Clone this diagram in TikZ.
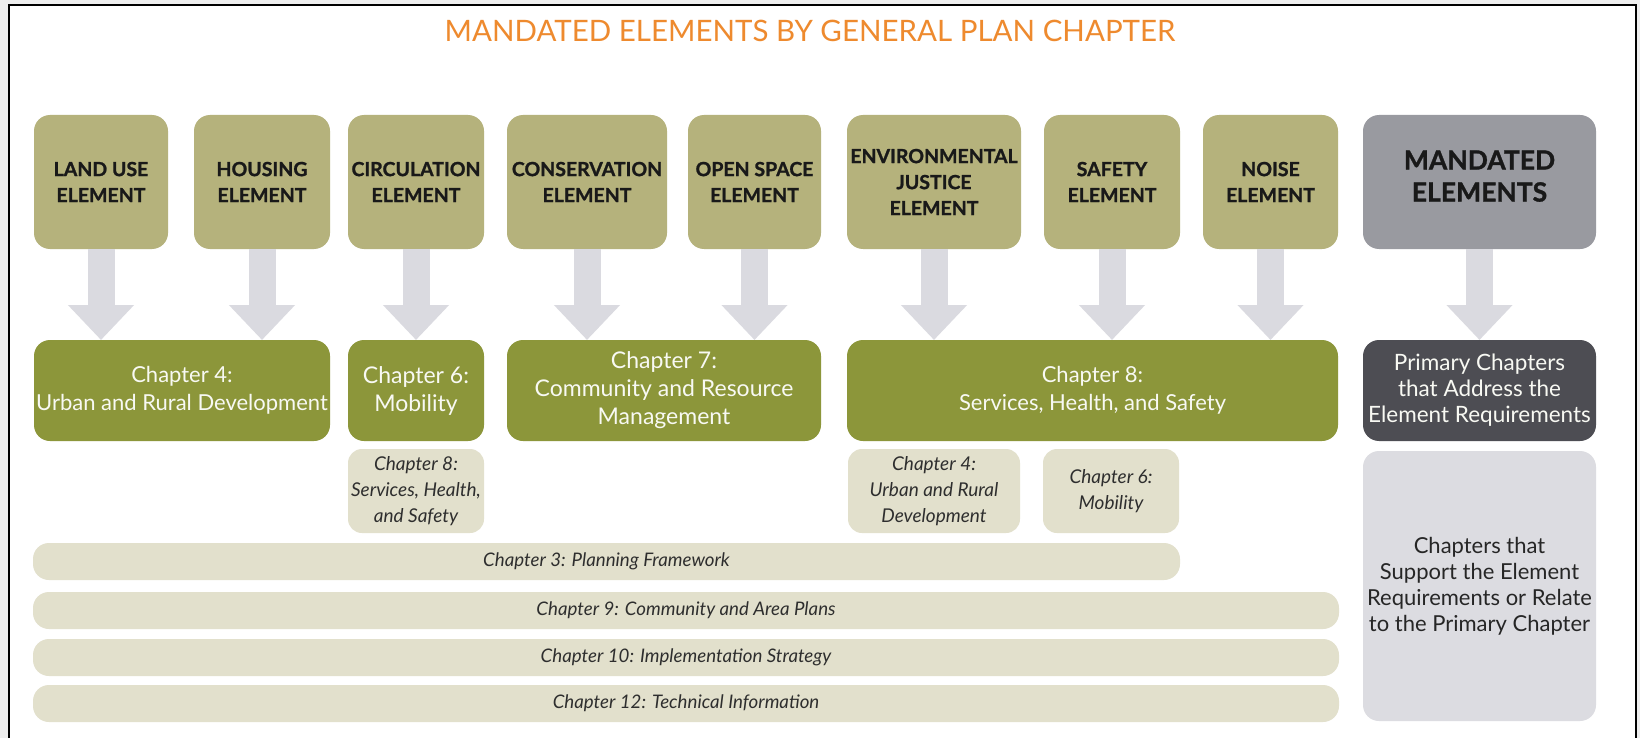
\documentclass[tikz,border=0pt]{standalone}
\usepackage{fontspec}
\setmainfont{Lato}
\newfontfamily\heavyfont[BoldFeatures={FakeBold=1.2}]{Lato}
\usetikzlibrary{positioning, arrows.meta}

\definecolor{elementkhaki}{HTML}{B5B27C}
\definecolor{chaptergreen}{HTML}{8C963A}
\definecolor{supportbeige}{HTML}{E2E0CC}
\definecolor{arrowgray}{HTML}{DADAE0}
\definecolor{mandgray}{HTML}{999AA0}
\definecolor{primgray}{HTML}{4D4D53}
\definecolor{suppgray}{HTML}{DCDCE1}
\definecolor{titleorange}{HTML}{EE8A2E}
\definecolor{outergray}{HTML}{EEEEEE}

\begin{document}
\begin{tikzpicture}[x=1pt, y=-1pt, inner sep=0pt, outer sep=0pt]
                \tikzset{
                    element/.style={fill=elementkhaki, rounded corners=16pt, minimum width=135pt, minimum height=134pt, align=center, font=\fontsize{19.5}{26}\heavyfont\bfseries, text=black!90},
                    primary/.style={fill=chaptergreen, rounded corners=16pt, minimum height=101pt, align=center, font=\fontsize{23}{28}\selectfont, text=white!94!chaptergreen},
                    support/.style={fill=supportbeige, rounded corners=14pt, minimum height=84pt, align=center, font=\fontsize{19}{26}\selectfont\itshape, text=black!82},
                    bar/.style={fill=supportbeige, rounded corners=16pt, minimum height=37pt, font=\fontsize{18.7}{22}\selectfont\itshape, text=black!82},
                    bigarrow/.style={draw=arrowgray, line width=27pt, -{Triangle[width=64pt, length=35pt]}}
                }

                % FRAME
                \useasboundingbox (0,0) rectangle (1640,738);
                \fill[outergray] (0,0) rectangle (1640,738);
                \fill[white] (9,5) rectangle (1636,750);
                \draw[line width=2.5pt] (9,750) -- (9,5) -- (1636,5) -- (1636,750);

                % TITLE
                \node[font=\fontsize{29.5}{34}\selectfont, text=titleorange] (title) at (810,31) {MANDATED ELEMENTS BY GENERAL PLAN CHAPTER};

                % ELEMENTS
                \node[element, minimum width=134pt] (lu) at (101,182) {LAND USE\\ELEMENT};
                \node[element, minimum width=136pt] (ho) at (262,182) {HOUSING\\ELEMENT};
                \node[element, minimum width=136pt] (ci) at (416,182) {CIRCULATION\\ELEMENT};
                \node[element, minimum width=160pt] (co) at (587,182) {CONSERVATION\\ELEMENT};
                \node[element, minimum width=133pt] (os) at (754.5,182) {OPEN SPACE\\ELEMENT};
                \node[element, minimum width=174pt] (ej) at (934,182) {ENVIRONMENTAL\\JUSTICE\\ELEMENT};
                \node[element, minimum width=136pt] (sa) at (1112,182) {SAFETY\\ELEMENT};
                \node[element, minimum width=135pt] (no) at (1270.5,182) {NOISE\\ELEMENT};
                \node[element, minimum width=233pt, fill=mandgray, font=\fontsize{26.5}{32}\heavyfont\bfseries] (ma) at (1479.5,182) {MANDATED\\ELEMENTS\\[-20pt]};

                % PRIMARY CHAPTERS
                \node[primary, minimum width=296pt, font=\fontsize{22}{28}\selectfont] (c4) at (182,390.5) {Chapter 4:\\Urban and Rural Development};
                \node[primary, minimum width=136pt] (c6) at (416,390.5) {Chapter 6:\\Mobility};
                \node[primary, minimum width=314pt] (c7) at (664,390.5) {Chapter 7:\\Community and Resource\\Management};
                \node[primary, minimum width=491pt, font=\fontsize{22}{28}\selectfont] (c8) at (1092.5,390.5) {Chapter 8:\\Services, Health, and Safety};
                \node[primary, minimum width=233pt, fill=primgray, font=\fontsize{22.5}{26}\selectfont] (pr) at (1479.5,390.5) {Primary Chapters\\that Address the\\Element Requirements};

                % SUPPORTING CHAPTERS
                \node[support, minimum width=136pt] (s8) at (416,491) {Chapter 8:\\Services, Health,\\and Safety};
                \node[support, minimum width=172pt] (s4) at (934,491) {Chapter 4:\\Urban and Rural\\Development};
                \node[support, minimum width=136pt] (s6) at (1111,491) {Chapter 6:\\Mobility};
                \node[support, minimum width=233pt, minimum height=270pt, fill=suppgray, rounded corners=16pt, font=\fontsize{22}{26}\selectfont, text=black!85] (su) at (1479.5,586) {Chapters that\\Support the Element\\Requirements or Relate\\to the Primary Chapter};

                % RELATED CHAPTERS
                \node[bar, minimum width=1147pt, anchor=north west] (b3) at (33,543) {Chapter 3: Planning Framework};
                \node[bar, minimum width=1306pt, anchor=north west] (b9) at (33,592) {Chapter 9: Community and Area Plans};
                \node[bar, minimum width=1306pt] (b10) [below=10pt of b9] {Chapter 10: Implementation Strategy};
                \node[bar, minimum width=1306pt] (b12) [below=9pt of b10] {Chapter 12: Technical Information};

                % ARROWS
                \draw[bigarrow] (lu) -- (lu |- c4.north);
                \draw[bigarrow] (ho) -- (ho |- c4.north);
                \draw[bigarrow] (ci) -- (c6);
                \draw[bigarrow] (co) -- (co |- c7.north);
                \draw[bigarrow] (os) -- (os |- c7.north);
                \draw[bigarrow] (ej) -- (ej |- c8.north);
                \draw[bigarrow] (sa) -- (sa |- c8.north);
                \draw[bigarrow] (no) -- (no |- c8.north);
                \draw[bigarrow] (ma) -- (pr);

            \end{tikzpicture}
\end{document}
